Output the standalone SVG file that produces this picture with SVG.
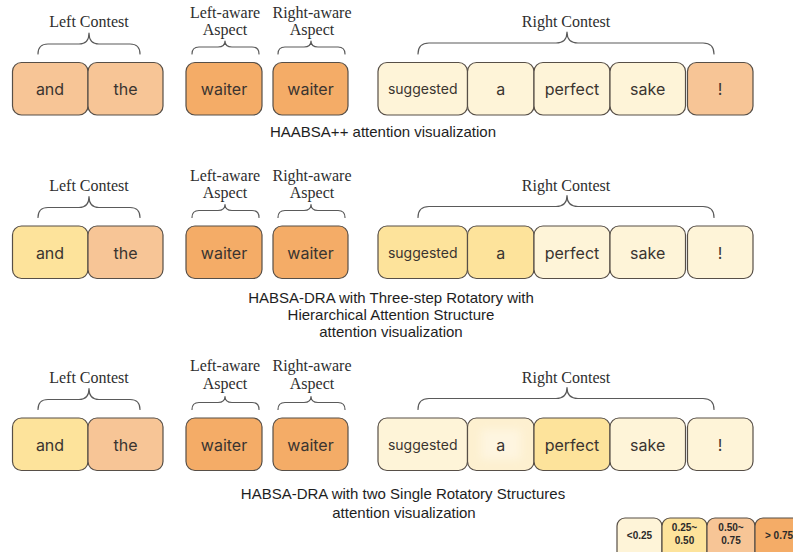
<svg xmlns="http://www.w3.org/2000/svg" width="793" height="552" viewBox="0 0 793 552">
  <style>
    .tok { stroke: #574f47; stroke-width: 1.2; }
    .cream { fill: #fef4d8; }
    .yellow { fill: #fde39b; }
    .peach { fill: #f7c596; }
    .orange { fill: #f4ac67; }
    .word { font-family: Inter, "Noto Sans", sans-serif; font-size: 16px; fill: #3a3430; text-anchor: middle; }
    .word.small { font-size: 14px; }
    .lbl { font-family: "Liberation Serif", "Times New Roman", serif; font-size: 16px; fill: #2e2e2e; text-anchor: middle; }
    .cap { font-family: "Liberation Sans", Arial, sans-serif; font-size: 15px; fill: #1e1e1e; text-anchor: middle; }
    .brace { fill: none; stroke: #5a5a5a; stroke-width: 1.2; stroke-linecap: round; stroke-linejoin: round; }
    .leg { font-family: "Liberation Sans", Arial, sans-serif; font-size: 10px; font-weight: bold; fill: #2a2a2a; text-anchor: middle; }
  </style>
  <defs>
    <filter id="soft" x="-30%" y="-30%" width="160%" height="160%">
      <feGaussianBlur stdDeviation="4"/>
    </filter>
  </defs>

  <rect width="793" height="552" fill="#ffffff"/>

  <!-- ===== Row 1: HAABSA++ ===== -->
  <g id="row1">
    <g id="braces-r1">
      <path class="brace" d="M38 54 Q38 44 48 44 L79 44 Q89 44 89 33 Q89 44 99 44 L130 44 Q140 44 140 54"/>
      <path class="brace" d="M192 54 Q192 47 199 47 L218 47 Q225 47 225 41 Q225 47 232 47 L252 47 Q259 47 259 54"/>
      <path class="brace" d="M278 54 Q278 47 285 47 L304 47 Q311 47 311 41 Q311 47 318 47 L338 47 Q345 47 345 54"/>
      <path class="brace" d="M418 54 Q418 43 429 43 L556 43 Q567 43 567 32 Q567 43 578 43 L703 43 Q714 43 714 54"/>
    </g>
    <text class="lbl" x="89" y="27">Left Contest</text>
    <text class="lbl" x="225" y="18">Left-aware</text>
    <text class="lbl" x="225" y="35">Aspect</text>
    <text class="lbl" x="312" y="18">Right-aware</text>
    <text class="lbl" x="312" y="35">Aspect</text>
    <text class="lbl" x="566" y="27">Right Contest</text>

    <g id="r1-and"><rect class="tok peach" x="12.5" y="62.5" width="75.5" height="52.5" rx="9"/><text class="word" x="50" y="95">and</text></g>
    <g id="r1-the"><rect class="tok peach" x="88" y="62.5" width="75" height="52.5" rx="9"/><text class="word" x="125.5" y="95">the</text></g>
    <g id="r1-waiter-left"><rect class="tok orange" x="186" y="62.5" width="76" height="52.5" rx="9"/><text class="word" x="224" y="95">waiter</text></g>
    <g id="r1-waiter-right"><rect class="tok orange" x="273" y="62.5" width="75" height="52.5" rx="9"/><text class="word" x="310.5" y="95">waiter</text></g>
    <g id="r1-suggested"><rect class="tok cream" x="378" y="62.5" width="89.5" height="52.5" rx="9"/><text class="word small" x="422.7" y="94">suggested</text></g>
    <g id="r1-a"><rect class="tok cream" x="467.5" y="62.5" width="66.5" height="52.5" rx="9"/><text class="word" x="500.7" y="95">a</text></g>
    <g id="r1-perfect"><rect class="tok cream" x="534" y="62.5" width="76" height="52.5" rx="9"/><text class="word" x="572" y="95">perfect</text></g>
    <g id="r1-sake"><rect class="tok cream" x="610" y="62.5" width="75.5" height="52.5" rx="9"/><text class="word" x="647.7" y="95">sake</text></g>
    <g id="r1-excl"><rect class="tok peach" x="687.5" y="62.5" width="65.5" height="52.5" rx="9"/><text class="word" x="720" y="95">!</text></g>

    <text class="cap" x="383" y="137">HAABSA++ attention visualization</text>
  </g>

  <!-- ===== Row 2: HABSA-DRA, three-step rotatory ===== -->
  <g id="row2" transform="translate(0,163.5)">
    <g id="braces-r2">
      <path class="brace" d="M38 54 Q38 44 48 44 L79 44 Q89 44 89 33 Q89 44 99 44 L130 44 Q140 44 140 54"/>
      <path class="brace" d="M192 54 Q192 47 199 47 L218 47 Q225 47 225 41 Q225 47 232 47 L252 47 Q259 47 259 54"/>
      <path class="brace" d="M278 54 Q278 47 285 47 L304 47 Q311 47 311 41 Q311 47 318 47 L338 47 Q345 47 345 54"/>
      <path class="brace" d="M418 54 Q418 43 429 43 L556 43 Q567 43 567 32 Q567 43 578 43 L703 43 Q714 43 714 54"/>
    </g>
    <text class="lbl" x="89" y="27">Left Contest</text>
    <text class="lbl" x="225" y="17">Left-aware</text>
    <text class="lbl" x="225" y="34">Aspect</text>
    <text class="lbl" x="312" y="17">Right-aware</text>
    <text class="lbl" x="312" y="34">Aspect</text>
    <text class="lbl" x="566" y="27">Right Contest</text>

    <g id="r2-and"><rect class="tok yellow" x="12.5" y="62.5" width="75.5" height="52.5" rx="9"/><text class="word" x="50" y="95">and</text></g>
    <g id="r2-the"><rect class="tok peach" x="88" y="62.5" width="75" height="52.5" rx="9"/><text class="word" x="125.5" y="95">the</text></g>
    <g id="r2-waiter-left"><rect class="tok orange" x="186" y="62.5" width="76" height="52.5" rx="9"/><text class="word" x="224" y="95">waiter</text></g>
    <g id="r2-waiter-right"><rect class="tok orange" x="273" y="62.5" width="75" height="52.5" rx="9"/><text class="word" x="310.5" y="95">waiter</text></g>
    <g id="r2-suggested"><rect class="tok yellow" x="378" y="62.5" width="89.5" height="52.5" rx="9"/><text class="word small" x="422.7" y="94">suggested</text></g>
    <g id="r2-a"><rect class="tok yellow" x="467.5" y="62.5" width="66.5" height="52.5" rx="9"/><text class="word" x="500.7" y="95">a</text></g>
    <g id="r2-perfect"><rect class="tok cream" x="534" y="62.5" width="76" height="52.5" rx="9"/><text class="word" x="572" y="95">perfect</text></g>
    <g id="r2-sake"><rect class="tok cream" x="610" y="62.5" width="75.5" height="52.5" rx="9"/><text class="word" x="647.7" y="95">sake</text></g>
    <g id="r2-excl"><rect class="tok cream" x="687.5" y="62.5" width="65.5" height="52.5" rx="9"/><text class="word" x="720" y="95">!</text></g>

    <text class="cap" x="391" y="139">HABSA-DRA with Three-step Rotatory with</text>
    <text class="cap" x="391" y="156">Hierarchical Attention Structure</text>
    <text class="cap" x="391" y="173">attention visualization</text>
  </g>

  <!-- ===== Row 3: HABSA-DRA, two single rotatory ===== -->
  <g id="row3" transform="translate(0,355.5)">
    <g id="braces-r3">
      <path class="brace" d="M38 54 Q38 44 48 44 L79 44 Q89 44 89 33 Q89 44 99 44 L130 44 Q140 44 140 54"/>
      <path class="brace" d="M192 54 Q192 47 199 47 L218 47 Q225 47 225 41 Q225 47 232 47 L252 47 Q259 47 259 54"/>
      <path class="brace" d="M278 54 Q278 47 285 47 L304 47 Q311 47 311 41 Q311 47 318 47 L338 47 Q345 47 345 54"/>
      <path class="brace" d="M418 54 Q418 43 429 43 L556 43 Q567 43 567 32 Q567 43 578 43 L703 43 Q714 43 714 54"/>
    </g>
    <text class="lbl" x="89" y="27">Left Contest</text>
    <text class="lbl" x="225" y="15">Left-aware</text>
    <text class="lbl" x="225" y="33">Aspect</text>
    <text class="lbl" x="312" y="15">Right-aware</text>
    <text class="lbl" x="312" y="33">Aspect</text>
    <text class="lbl" x="566" y="27">Right Contest</text>

    <g id="r3-and"><rect class="tok yellow" x="12.5" y="62.5" width="75.5" height="52.5" rx="9"/><text class="word" x="50" y="95">and</text></g>
    <g id="r3-the"><rect class="tok peach" x="88" y="62.5" width="75" height="52.5" rx="9"/><text class="word" x="125.5" y="95">the</text></g>
    <g id="r3-waiter-left"><rect class="tok orange" x="186" y="62.5" width="76" height="52.5" rx="9"/><text class="word" x="224" y="95">waiter</text></g>
    <g id="r3-waiter-right"><rect class="tok orange" x="273" y="62.5" width="75" height="52.5" rx="9"/><text class="word" x="310.5" y="95">waiter</text></g>
    <g id="r3-suggested"><rect class="tok cream" x="378" y="62.5" width="89.5" height="52.5" rx="9"/><text class="word small" x="422.7" y="94">suggested</text></g>
    <g id="r3-a">
      <rect class="tok" x="467.5" y="62.5" width="66.5" height="52.5" rx="9" fill="#fdf0d0"/>
      <rect x="481" y="74" width="40" height="30" fill="#fef5e0" filter="url(#soft)"/>
      <text class="word" x="500.7" y="95">a</text>
    </g>
    <g id="r3-perfect"><rect class="tok yellow" x="534" y="62.5" width="76" height="52.5" rx="9"/><text class="word" x="572" y="95">perfect</text></g>
    <g id="r3-sake"><rect class="tok cream" x="610" y="62.5" width="75.5" height="52.5" rx="9"/><text class="word" x="647.7" y="95">sake</text></g>
    <g id="r3-excl"><rect class="tok cream" x="687.5" y="62.5" width="65.5" height="52.5" rx="9"/><text class="word" x="720" y="95">!</text></g>

    <text class="cap" x="403" y="143">HABSA-DRA with two Single Rotatory Structures</text>
    <text class="cap" x="404" y="162">attention visualization</text>
  </g>

  <!-- ===== Legend ===== -->
  <g id="legend">
    <g id="leg-1"><rect class="tok cream" x="617" y="518" width="45" height="44" rx="8"/><text class="leg" x="639.5" y="539">&lt;0.25</text></g>
    <g id="leg-2"><rect class="tok yellow" x="662" y="518" width="45" height="44" rx="8"/><text class="leg" x="684.5" y="531">0.25~</text><text class="leg" x="684.5" y="544">0.50</text></g>
    <g id="leg-3"><rect class="tok peach" x="707" y="518" width="48" height="44" rx="8"/><text class="leg" x="731" y="531">0.50~</text><text class="leg" x="731" y="544">0.75</text></g>
    <g id="leg-4"><rect class="tok orange" x="755" y="518" width="48" height="44" rx="8"/><text class="leg" x="779" y="539">&gt; 0.75</text></g>
  </g>
</svg>
